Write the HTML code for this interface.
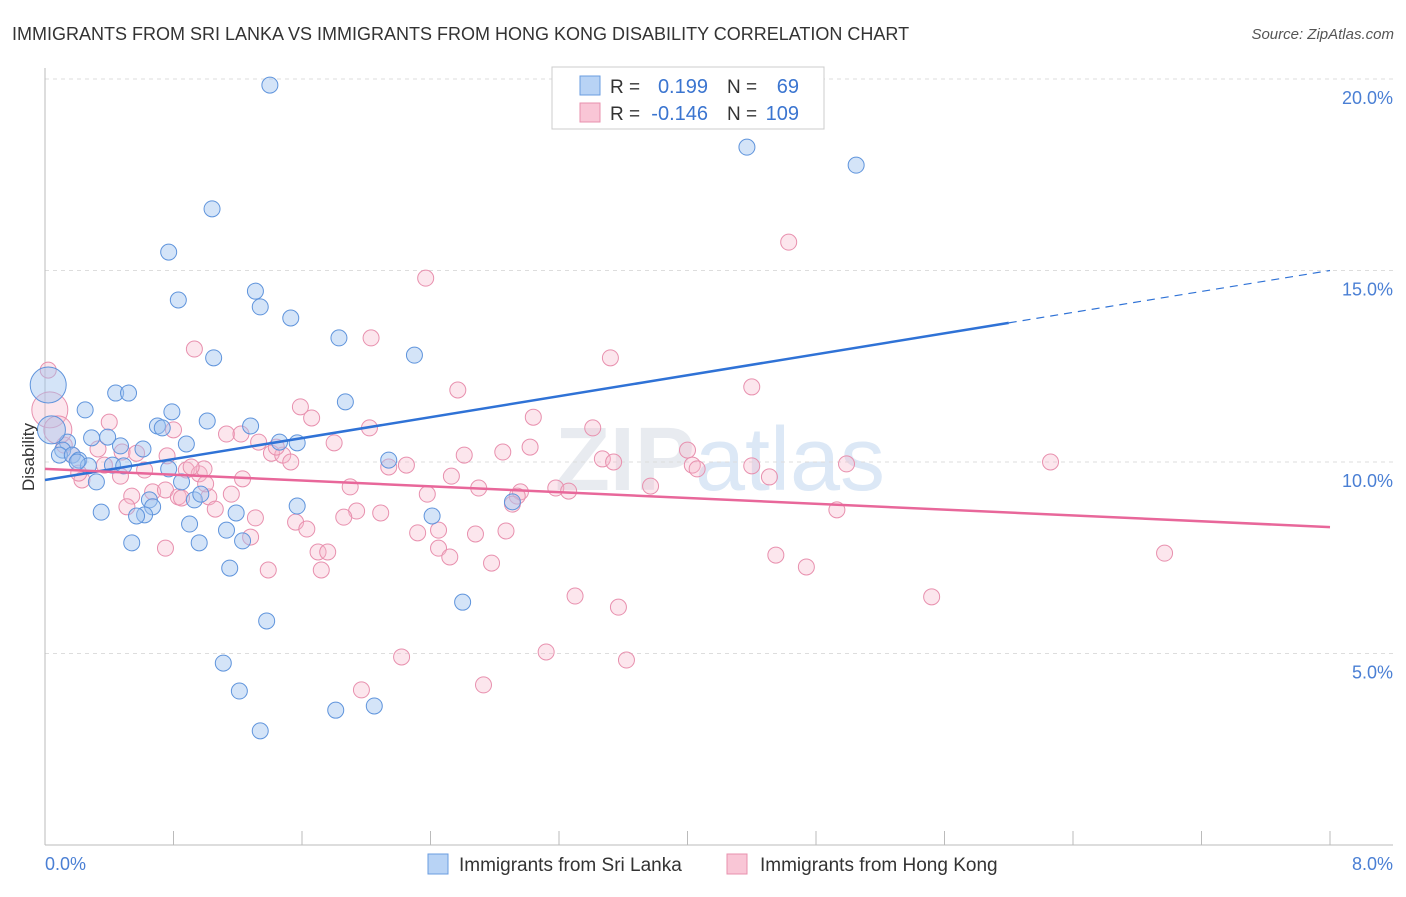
<!DOCTYPE html>
<html><head><meta charset="utf-8">
<style>
body{margin:0;background:#fff;font-family:"Liberation Sans",sans-serif;}
svg text{font-family:"Liberation Sans",sans-serif;}
</style></head>
<body>
<svg id="chart" width="1406" height="892" viewBox="0 0 1406 892" xmlns="http://www.w3.org/2000/svg">
<text x="12" y="40" font-size="18" fill="#333">IMMIGRANTS FROM SRI LANKA VS IMMIGRANTS FROM HONG KONG DISABILITY CORRELATION CHART</text>
<text x="1394" y="39" font-size="15" fill="#555" font-style="italic" text-anchor="end">Source: ZipAtlas.com</text>
<text x="720" y="490" font-size="90" fill="#e8ebf0" text-anchor="middle" font-weight="bold">ZIP<tspan fill="#dce8f6" font-weight="normal">atlas</tspan></text>
<g id="grid"></g>
<g id="axes"></g>
<g id="points"></g>
<g id="trends"></g>
<text transform="translate(34,457) rotate(-90)" font-size="17" fill="#333" text-anchor="middle">Disability</text>
<text x="45" y="870" font-size="18" fill="#4a7fd4">0.0%</text>
<text x="1393" y="870" font-size="18" fill="#4a7fd4" text-anchor="end">8.0%</text>
<g>
<rect x="552" y="67" width="272" height="62" fill="#fff" stroke="#ccc"/>
<rect x="580" y="76" width="20" height="19" fill="#b8d3f5" stroke="#6a9de0"/>
<rect x="580" y="103" width="20" height="19" fill="#f9c6d6" stroke="#e890ae"/>
<text x="610" y="93" font-size="19" fill="#333">R =</text>
<text x="708" y="93" font-size="20" fill="#3b75d0" text-anchor="end">0.199</text>
<text x="727" y="93" font-size="19" fill="#333">N =</text>
<text x="799" y="93" font-size="20" fill="#3b75d0" text-anchor="end">69</text>
<text x="610" y="120" font-size="19" fill="#333">R =</text>
<text x="708" y="120" font-size="20" fill="#3b75d0" text-anchor="end">-0.146</text>
<text x="727" y="120" font-size="19" fill="#333">N =</text>
<text x="799" y="120" font-size="20" fill="#3b75d0" text-anchor="end">109</text>
</g>
<g>
<rect x="428" y="854" width="20" height="20" fill="#b8d3f5" stroke="#6a9de0"/>
<text x="459" y="871" font-size="19" fill="#333">Immigrants from Sri Lanka</text>
</g>
<g>
<rect x="727" y="854" width="20" height="20" fill="#f9c6d6" stroke="#e890ae"/>
<text x="760" y="871" font-size="19" fill="#333">Immigrants from Hong Kong</text>
</g>
</svg>
<script>
const yTicks=[5,10,15,20];
const yTickLabels=["5.0%","10.0%","15.0%","20.0%"];
const xTicks=[0,0.8,1.6,2.4,3.2,4,4.8,5.6,6.4,7.2,8];
const blueX=[1.40,4.37,5.05,1.04,0.77,0.83,1.31,1.34,1.53,1.83,2.30,1.05,1.87,0.44,0.52,0.25,0.79,0.70,0.73,1.01,1.28,1.46,1.57,0.39,0.29,0.47,0.61,0.88,0.14,0.11,0.09,0.17,0.21,0.27,0.20,0.42,0.49,0.77,0.32,0.85,0.93,0.97,0.65,0.67,0.62,0.57,0.35,1.19,1.57,0.90,1.13,0.96,1.23,0.54,1.15,2.14,2.41,2.91,2.60,1.38,1.11,1.21,1.81,2.05,1.34,0.02,0.04];
const blueY=[19.84,18.22,17.75,16.61,15.48,14.23,14.46,14.05,13.76,13.24,12.79,12.72,11.57,11.80,11.80,11.36,11.31,10.94,10.89,11.07,10.94,10.52,10.50,10.65,10.63,10.42,10.34,10.47,10.52,10.31,10.18,10.18,10.05,9.90,10.00,9.92,9.90,9.82,9.48,9.48,9.01,9.16,9.01,8.83,8.62,8.59,8.69,8.67,8.85,8.38,8.22,7.89,7.94,7.89,7.23,10.05,8.59,8.96,6.34,5.85,4.75,4.02,3.52,3.63,2.98,12.01,10.84];
const blueBig=[65,66];
const pinkX=[2.37,4.63,2.03,3.52,0.93,2.57,4.40,1.59,1.66,3.04,0.40,0.80,1.13,1.22,2.02,3.41,4.00,1.33,1.80,1.41,1.48,1.44,1.53,2.85,2.61,3.02,3.47,3.54,4.03,4.06,4.40,4.99,6.26,2.25,2.14,0.33,0.48,0.57,0.12,0.17,0.47,0.62,0.88,0.96,0.37,0.76,0.23,0.21,1.23,2.53,4.51,2.70,1.90,2.96,2.94,3.18,3.26,3.77,2.38,0.54,0.67,0.75,0.83,1.02,1.16,0.51,1.00,1.06,0.85,2.91,1.94,2.09,1.86,1.31,1.56,2.45,1.63,2.32,2.68,2.87,4.93,0.75,1.28,2.45,1.70,1.76,1.39,1.72,2.52,2.78,4.55,4.74,6.97,3.30,3.57,5.52,2.22,3.12,3.62,1.97,2.73,0.99,0.91,0.02,0.03,0.08];
const pinkY=[14.80,15.74,13.24,12.72,12.95,11.88,11.96,11.44,11.15,11.17,11.04,10.84,10.73,10.73,10.89,10.89,10.31,10.52,10.50,10.23,10.18,10.39,10.00,10.26,10.18,10.39,10.08,10.00,9.92,9.82,9.90,9.95,10.00,9.92,9.87,10.34,10.26,10.23,10.44,10.18,9.63,9.79,9.79,9.69,9.92,10.16,9.53,9.71,9.56,9.63,9.61,9.32,9.35,9.22,9.11,9.32,9.24,9.37,9.16,9.11,9.22,9.27,9.09,9.09,9.16,8.83,9.43,8.77,9.06,8.90,8.72,8.67,8.56,8.54,8.43,8.22,8.25,8.15,8.12,8.20,8.75,7.75,8.04,7.75,7.65,7.65,7.18,7.18,7.52,7.36,7.57,7.26,7.62,6.50,6.21,6.48,4.91,5.04,4.83,4.05,4.18,9.82,9.87,12.40,11.36,10.84];
const pinkBig=[104,105,106];
const blueTrend=[9.53,15.0];
const pinkTrend=[9.82,8.30];
const blueSolidEnd=6.0;

const X0=45,X1=1330,Y0=845,PXPCT=38.3;
const sx=v=>X0+(X1-X0)*v/8;
const sy=v=>Y0-v*PXPCT;
const NS="http://www.w3.org/2000/svg";
function mk(tag,parent,attrs){const e=document.createElementNS(NS,tag);for(const k in attrs)e.setAttribute(k,attrs[k]);parent.appendChild(e);return e;}
const gridG=document.getElementById('grid'),axesG=document.getElementById('axes'),ptsG=document.getElementById('points'),trG=document.getElementById('trends');
yTicks.forEach((t,i)=>{
 const l=mk('line',gridG,{x1:X0,x2:1393,y1:sy(t),y2:sy(t),stroke:'#ddd','stroke-dasharray':'4,4'});
 
 
 const tx=mk('text',gridG,{x:1393,y:sy(t)+25,'font-size':18,fill:'#4a7fd4','text-anchor':'end'});
 tx.textContent=yTickLabels[i];
 
 
});
const topGrid=mk('line',gridG,{x1:X0,x2:1393,y1:79,y2:79,stroke:'#ddd','stroke-dasharray':'4,4'});


const ya=mk('line',axesG,{x1:X0,x2:X0,y1:68,y2:Y0,stroke:'#bbb'});


const xa=mk('line',axesG,{x1:X0,x2:1393,y1:Y0,y2:Y0,stroke:'#bbb'});


xTicks.forEach(t=>{
 const l=mk('line',axesG,{x1:sx(t),x2:sx(t),y1:Y0-14,y2:Y0,stroke:'#bbb'});
 
 
});
function dots(xs,ys,big,fill,stroke,name){
 xs.forEach((x,i)=>{
  const r=big.includes(i)?(i===big[0]?18:14):8;
  const c=mk('circle',ptsG,{cx:sx(x),cy:sy(ys[i]),r:r,fill:fill,stroke:stroke,'stroke-width':1});
  
  
 });
}
dots(pinkX,pinkY,pinkBig,'rgba(246,182,202,0.35)','#e890ae','point-hong-kong');
dots(blueX,blueY,blueBig,'rgba(160,196,240,0.45)','#5f94dc','point-sri-lanka');
const bAt=v=>blueTrend[0]+(blueTrend[1]-blueTrend[0])*v/8;
const b1=mk('line',trG,{x1:sx(0),y1:sy(bAt(0)),x2:sx(blueSolidEnd),y2:sy(bAt(blueSolidEnd)),stroke:'#2f72d6','stroke-width':2.5});


const b2=mk('line',trG,{x1:sx(blueSolidEnd),y1:sy(bAt(blueSolidEnd)),x2:sx(8),y2:sy(bAt(8)),stroke:'#2f72d6','stroke-width':1.2,'stroke-dasharray':'8,6'});


const p1=mk('line',trG,{x1:sx(0),y1:sy(pinkTrend[0]),x2:sx(8),y2:sy(pinkTrend[1]),stroke:'#e8679a','stroke-width':2.5});


</script>
</body></html>
